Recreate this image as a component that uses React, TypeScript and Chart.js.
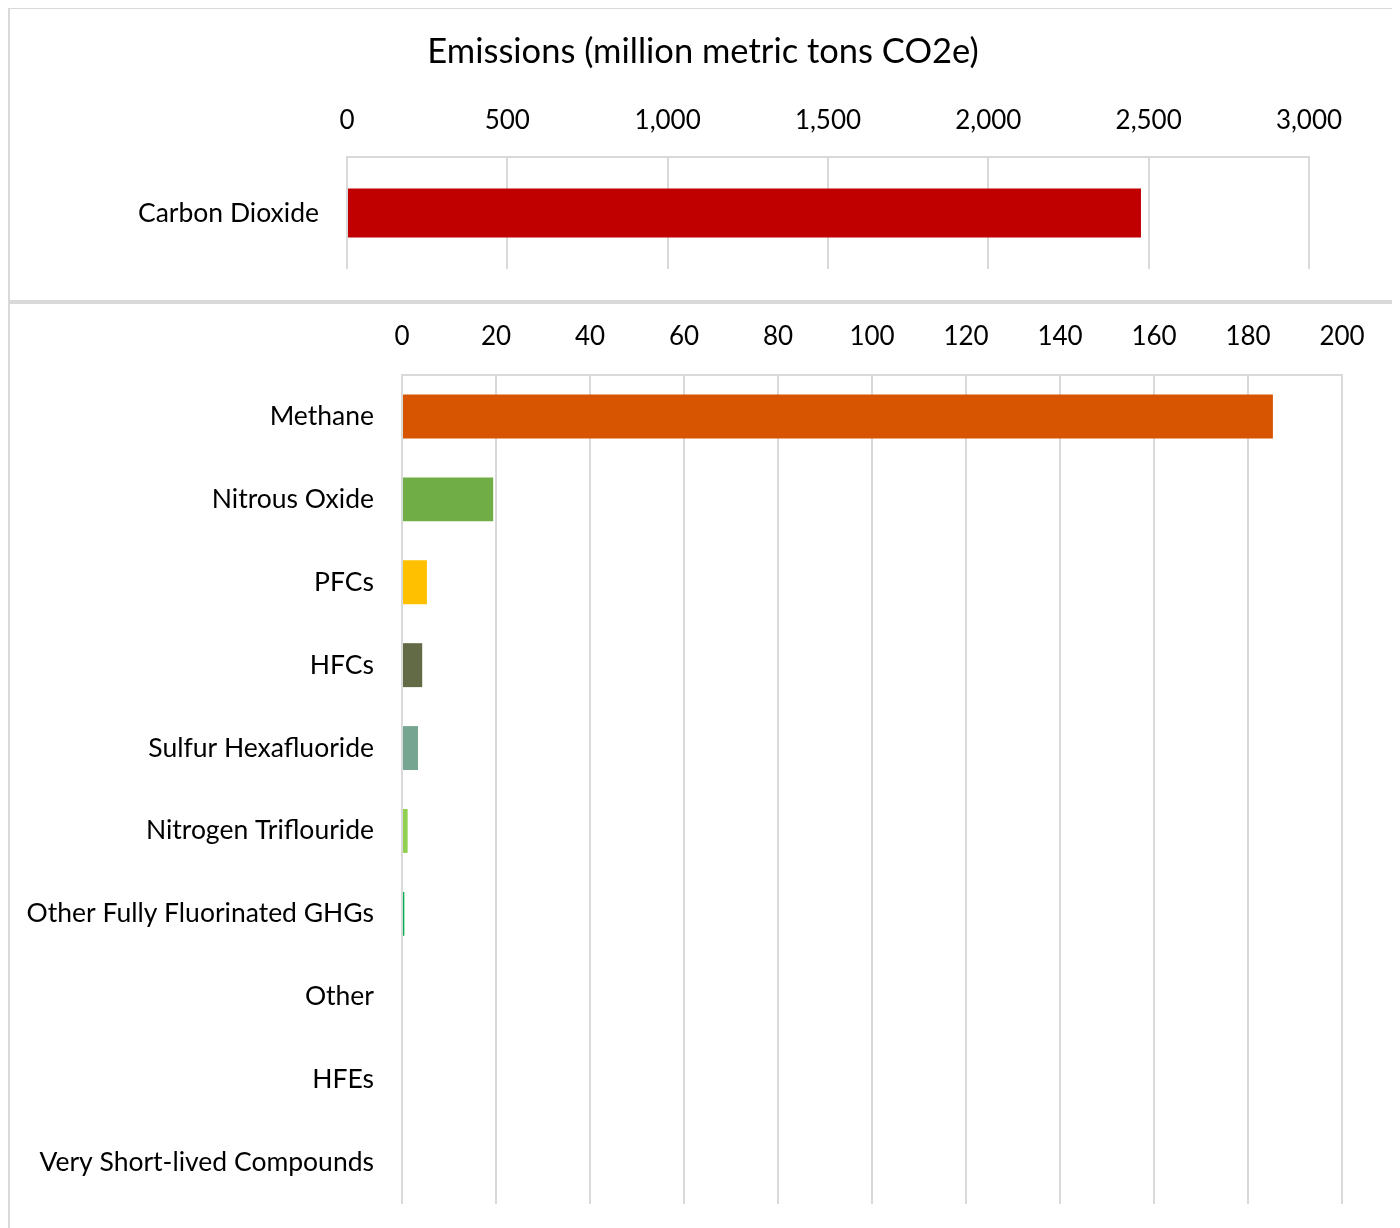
import React, { useEffect, useRef } from "react";
import { Chart, registerables } from "chart.js";

Chart.register(...registerables);

// Carbon dioxide shown on its own scale
const co2Labels = ["Carbon Dioxide"];
const co2Values = [2476];
const co2Colors = ["#C00000"];

// Remaining greenhouse gases
const gasLabels = [
  "Methane",
  "Nitrous Oxide",
  "PFCs",
  "HFCs",
  "Sulfur Hexafluoride",
  "Nitrogen Triflouride",
  "Other Fully Fluorinated GHGs",
  "Other",
  "HFEs",
  "Very Short-lived Compounds",
];
const gasValues = [185.3, 19.4, 5.3, 4.3, 3.4, 1.2, 0.5, 0, 0, 0];
const gasColors = [
  "#D75400",
  "#70AD47",
  "#FFC000",
  "#636B46",
  "#76A591",
  "#92D050",
  "#00B050",
  "#A5A5A5",
  "#4472C4",
  "#264478",
];

const chartTitle = "Emissions (million metric tons CO2e)";

const FONT = "Lato, 'Noto Sans', sans-serif";
const GRID = "#d9d9d9";

type PanelProps = {
  labels: string[];
  values: number[];
  colors: string[];
  max: number;
  step: number;
  width: number;
  height: number;
  yWidth: number;
  xHeight: number;
  xTickGap: number;
  padRight: number;
  padBottom: number;
  barPct: number;
};

function BarPanel(p: PanelProps) {
  const ref = useRef<HTMLCanvasElement | null>(null);

  useEffect(() => {
    if (!ref.current) return;
    const chart = new Chart(ref.current, {
      type: "bar",
      data: {
        labels: p.labels,
        datasets: [
          {
            data: p.values,
            backgroundColor: p.colors,
            borderWidth: 0,
            barPercentage: p.barPct,
            categoryPercentage: 1,
          },
        ],
      },
      options: {
        indexAxis: "y",
        responsive: false,
        animation: false,
        layout: { padding: { top: 0, left: 0, right: p.padRight, bottom: p.padBottom } },
        plugins: {
          legend: { display: false },
          tooltip: { enabled: false },
          title: { display: false },
        },
        scales: {
          x: {
            position: "top",
            min: 0,
            max: p.max,
            ticks: {
              stepSize: p.step,
              color: "#000",
              padding: 0,
              font: { family: FONT, size: 26 },
            },
            grid: {
              color: GRID,
              lineWidth: 2,
              drawTicks: true,
              tickLength: p.xTickGap,
              tickColor: "rgba(0,0,0,0)",
            },
            border: { display: true, color: GRID, width: 2 },
            afterFit: (s: any) => {
              s.height = p.xHeight;
            },
          },
          y: {
            ticks: {
              color: "#000",
              padding: 0,
              font: { family: FONT, size: 26.5 },
            },
            grid: {
              display: true,
              drawOnChartArea: false,
              drawTicks: true,
              tickLength: 28,
              tickColor: "rgba(0,0,0,0)",
              color: "rgba(0,0,0,0)",
            },
            border: { display: false },
            afterFit: (s: any) => {
              s.width = p.yWidth;
            },
          },
        },
      },
    });
    return () => chart.destroy();
  }, []);

  return <canvas ref={ref} width={p.width} height={p.height} style={{ display: "block" }} />;
}

const panelStyle: React.CSSProperties = {
  position: "absolute",
  left: 0,
  boxSizing: "border-box",
  border: "2px solid #d9d9d9",
  background: "#fff",
  overflow: "hidden",
};

export default function App() {
  return (
    <div style={{ position: "relative", width: 1390, height: 1220 }}>
      <div style={{ ...panelStyle, top: -1, width: 1390, height: 295 }}>
        <BarPanel
          labels={co2Labels}
          values={co2Values}
          colors={co2Colors}
          max={3000}
          step={500}
          width={1386}
          height={291}
          yWidth={337}
          xHeight={148}
          xTickGap={21}
          padRight={87}
          padBottom={31}
          barPct={0.4375}
        />
        <div
          style={{
            position: "absolute",
            left: 0,
            right: 0,
            top: 21,
            textAlign: "center",
            fontFamily: FONT,
            fontSize: 34.5,
            lineHeight: "40px",
            color: "#000",
          }}
        >
          {chartTitle}
        </div>
      </div>
      <div style={{ ...panelStyle, top: 294, width: 1388, height: 940 }}>
        <BarPanel
          labels={gasLabels}
          values={gasValues}
          colors={gasColors}
          max={200}
          step={20}
          width={1384}
          height={936}
          yWidth={392}
          xHeight={71}
          xTickGap={23}
          padRight={52}
          padBottom={36}
          barPct={0.53}
        />
      </div>
    </div>
  );
}
